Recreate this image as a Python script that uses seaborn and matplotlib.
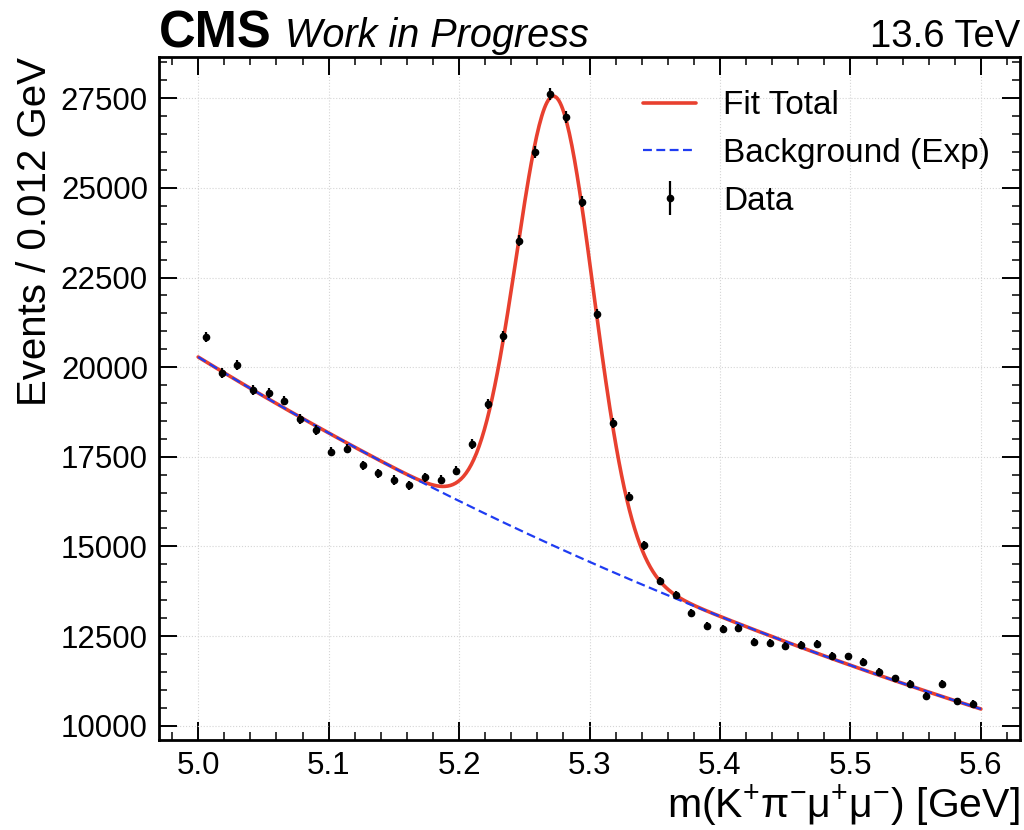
import numpy as np
import pandas as pd
import matplotlib
matplotlib.use("Agg")
import matplotlib.pyplot as plt
from matplotlib.ticker import AutoMinorLocator, MultipleLocator
import seaborn as sns

# ─── DATA ─────────────────────────────────────────────────────────────────────
# 50 bins of 0.012 GeV between 5.0 and 5.6 GeV
mass_lo, mass_hi, n_bins = 5.0, 5.6, 50
counts = [
    20850, 19830, 20050, 19360, 19270, 19070, 18550, 18250, 17645, 17730,
    17265, 17040, 16850, 16700, 16930, 16860, 17110, 17850, 18965, 20860,
    23525, 26000, 27620, 26980, 24620, 21490, 18450, 16390, 15035, 14030,
    13640, 13140, 12770, 12700, 12730, 12340, 12300, 12230, 12260, 12280,
    11940, 11930, 11785, 11505, 11320, 11160, 10835, 11160, 10680, 10605,
]

# fit result: exponential background + gaussian peak
bg_norm = 20284      # background at m = 5.0 GeV
bg_slope = 1.103     # decay constant [1/GeV]
sig_amp = 12550
sig_mean = 5.2735
sig_width = 0.0295

edges = np.linspace(mass_lo, mass_hi, n_bins + 1)
centers = 0.5 * (edges[1:] + edges[:-1])
data = pd.DataFrame({"mass": centers, "events": counts})
data["err"] = np.sqrt(data["events"])

m = np.linspace(mass_lo, mass_hi, 600)
bkg = bg_norm * np.exp(-bg_slope * (m - mass_lo))
total = bkg + sig_amp * np.exp(-0.5 * ((m - sig_mean) / sig_width) ** 2)
curves = pd.DataFrame({"mass": m, "total": total, "bkg": bkg})

# ─── STYLE ────────────────────────────────────────────────────────────────────
sns.set_theme(style="ticks")
plt.rcParams.update({
    "font.family": ["Liberation Sans", "DejaVu Sans"],
    "mathtext.fontset": "custom",
    "mathtext.rm": "Liberation Sans",
    "mathtext.it": "Liberation Sans:italic",
    "mathtext.bf": "Liberation Sans:bold",
    "text.color": "black", "axes.labelcolor": "black",
    "axes.linewidth": 2.0,
    "axes.edgecolor": "black",
    "xtick.direction": "in", "ytick.direction": "in",
    "xtick.top": True, "ytick.right": True,
    "xtick.major.size": 13, "ytick.major.size": 13,
    "xtick.minor.size": 6, "ytick.minor.size": 6,
    "xtick.major.width": 1.4, "ytick.major.width": 1.4,
    "xtick.minor.width": 1.1, "ytick.minor.width": 1.1,
    "xtick.minor.visible": True, "ytick.minor.visible": True,
    "xtick.labelsize": 22.5, "ytick.labelsize": 22.5,
    "xtick.major.pad": 8, "ytick.major.pad": 8,
    "xtick.color": "black", "ytick.color": "black",
})

RED = "#e8402f"
BLUE = "#1f3cf2"

fig = plt.figure(figsize=(10.24, 8.3), dpi=100)
ax = fig.add_axes([0.1553, 0.1084, 0.8408, 0.8229])

ax.errorbar(data["mass"], data["events"], yerr=data["err"], fmt="o",
            color="black", ms=4.5, elinewidth=1.6, capsize=0, label="Data", zorder=5)
sns.lineplot(data=curves, x="mass", y="total", ax=ax, color=RED, lw=2.6,
             label="Fit Total", zorder=3)
sns.lineplot(data=curves, x="mass", y="bkg", ax=ax, color=BLUE, lw=1.6,
             ls=(0, (4, 2)), label="Background (Exp)", zorder=4)

ax.xaxis.set_major_locator(MultipleLocator(0.1))
ax.xaxis.set_minor_locator(AutoMinorLocator(5))
ax.yaxis.set_major_locator(MultipleLocator(2500))
ax.yaxis.set_minor_locator(AutoMinorLocator(5))
ax.grid(True, which="major", ls=":", lw=0.8, color="#d5d5d5")

ax.set_xlabel(r"m(K$^{+}\mathrm{\pi}^{-}\mathrm{\mu}^{+}\mathrm{\mu}^{-}$) [GeV]",
              fontsize=29.5, loc="right", labelpad=1)
ax.set_ylabel("Events / 0.012 GeV", fontsize=29, loc="top", labelpad=5)

handles, labels = ax.get_legend_handles_labels()
order = [labels.index(l) for l in ["Fit Total", "Background (Exp)", "Data"]]
ax.legend([handles[i] for i in order], [labels[i] for i in order],
          loc="upper right", bbox_to_anchor=(1.0, 0.995), frameon=False, fontsize=24,
          handlelength=1.6, handletextpad=0.8, labelspacing=0.5)

ax.text(0.0, 1.014, "CMS", transform=ax.transAxes, fontsize=36.5,
        fontweight="bold", ha="left", va="baseline")
ax.text(0.1463, 1.014, "Work in Progress", transform=ax.transAxes, fontsize=28.5,
        fontstyle="italic", ha="left", va="baseline")
ax.text(1.0, 1.014, "13.6 TeV", transform=ax.transAxes, fontsize=27.5,
        ha="right", va="baseline")

fig.savefig("out.png", dpi=100)
